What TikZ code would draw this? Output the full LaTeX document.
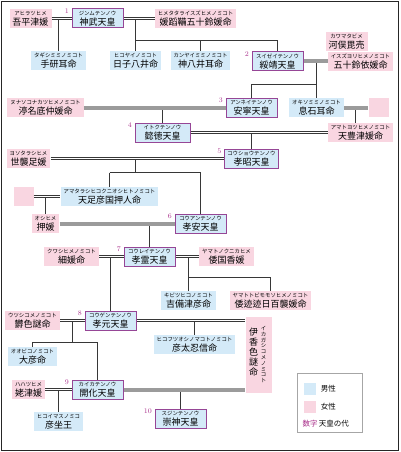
\documentclass[tikz,border=0pt]{standalone}
\usepackage{fontspec}
\usepackage{tikz}
\usetikzlibrary{positioning}
\newfontfamily\jp{Noto Sans CJK JP}
\newcommand{\rubyfont}{\fontsize{5.4}{6}\selectfont\jp}
\newcommand{\namefont}{\fontsize{9}{10}\selectfont\jp}
\newcommand{\legendfont}{\fontsize{7.5}{8}\selectfont\jp}
\newcommand{\person}[2]{{\rubyfont #1}\\{#2}}
\definecolor{malebg}{RGB}{212,234,248}
\definecolor{femalebg}{RGB}{249,214,225}
\definecolor{tennoline}{RGB}{150,70,150}
\definecolor{gennum}{RGB}{170,50,140}
\definecolor{tieline}{RGB}{155,155,155}
\definecolor{kinline}{RGB}{55,55,55}

\begin{document}
\begin{tikzpicture}[x=1pt, y=-1pt,
		male/.style={fill=malebg, inner xsep=3pt, inner ysep=1pt, minimum height=19pt, align=center, font=\namefont},
		female/.style={male, fill=femalebg},
		tenno/.style={male, draw=tennoline, line width=1pt, minimum width=51pt},
		gen/.style={text=gennum, font=\fontsize{7}{7}\selectfont, inner sep=0.5pt, anchor=north east},
		wed/.style={draw=kinline, line width=1pt, double=white, double distance=1pt},
		wedgray/.style={draw=tieline, line width=4pt},
		kin/.style={draw=kinline, line width=1pt}]
		\useasboundingbox (-0.5,-0.5) rectangle (399.5,451.5);
		\draw[black!85, line width=1.5pt] (1,1) rectangle (398,450);
		\node[female] (ahira) at (30,18) {\person{アヒラツヒメ}{吾平津媛}};
		\node[tenno] (jimmu) at (97,18) {\person{ジンムテンノウ}{神武天皇}};
		\node[female] (himetatara) at (195,18) {\person{ヒメタタライスズヒメノミコト}{媛蹈鞴五十鈴媛命}};
		\node[male] (tagishi) at (58,60) {\person{タギシミミノミコト}{手研耳命}};
		\node[male] (hikoyai) at (135,60) {\person{ヒコヤイノミコト}{日子八井命}};
		\node[male] (kamuyai) at (200,60) {\person{カンヤイミミノミコト}{神八井耳命}};
		\node[tenno] (suizei) at (277,61) {\person{スイゼイテンノウ}{綏靖天皇}};
		\node[female] (kawamata) at (346,41) {\person{カワマタビメ}{河俣毘売}};
		\node[female] (isuzuyori) at (360,61) {\person{イスズヨリヒメノミコト}{五十鈴依媛命}};
		\node[female] (nunasoko) at (45,107) {\person{ヌナソコナカツヒメノミコト}{渟名底仲媛命}};
		\node[tenno] (annei) at (251,107) {\person{アンネイテンノウ}{安寧天皇}};
		\node[male] (okiso) at (316,107) {\person{オキソミミノミコト}{息石耳命}};
		\node[female, minimum width=20pt] (blankA) at (378,107) {};
		\node[female] (amatoyo) at (360,132) {\person{アマトヨツヒメノミコト}{天豊津媛命}};
		\node[tenno, minimum width=55pt] (itoku) at (162,132) {\person{イトクテンノウ}{懿徳天皇}};
		\node[tenno] (kosho) at (251,158) {\person{コウショウテンノウ}{孝昭天皇}};
		\node[female] (yoso) at (28,158) {\person{ヨソタラシヒメ}{世襲足媛}};
		\node[female, minimum width=20pt] (blankB) at (23,196) {};
		\node[male] (amatarashi) at (109,196) {\person{アマタラシヒコクニオシヒトノミコト}{天足彦国押人命}};
		\node[female] (oshi) at (45,223) {\person{オシヒメ}{押媛}};
		\node[tenno] (koan) at (200,223) {\person{コウアンテンノウ}{孝安天皇}};
		\node[tenno] (korei) at (149,256) {\person{コウレイテンノウ}{孝霊天皇}};
		\node[female] (kuwashi) at (71,256) {\person{クワシヒメノミコト}{細媛命}};
		\node[female] (kunika) at (226,256) {\person{ヤマトノクニカヒメ}{倭国香媛}};
		\node[male] (kibitsu) at (188,300) {\person{キビツヒコノミコト}{吉備津彦命}};
		\node[female] (momoso) at (270,300) {\person{ヤマトトビモモソヒメノミコト}{倭迹迹日百襲媛命}};
		\node[tenno] (kogen) at (110,320) {\person{コウゲンテンノウ}{孝元天皇}};
		\node[female] (utsushiko) at (32,320) {\person{ウツシコメノミコト}{欝色謎命}};
		\node[male] (ohbiko) at (32,356) {\person{オオビコノミコト}{大彦命}};
		\node[male] (futsuoshi) at (194,344) {\person{ヒコフツオシノマコトノミコト}{彦太忍信命}};
		\node[female, minimum width=26pt, minimum height=76pt] (ikagashiko) at (258,354) {};
		\node[inner sep=0pt, align=center, font=\namefont] (ikaname) at ([xshift=-5pt, yshift=2pt]ikagashiko.center) {伊\\香\\色\\謎\\命};
		\node[inner sep=0pt, align=center, font=\fontsize{5.4}{5.8}\selectfont\jp] (ikaruby) at ([xshift=5pt]ikagashiko.center) {イ\\カ\\ガ\\シ\\コ\\メ\\ノ\\ミ\\コ\\ト};
		\node[tenno] (kaika) at (97,389) {\person{カイカテンノウ}{開化天皇}};
		\node[female] (hahatsu) at (28,389) {\person{ハハツヒメ}{姥津媛}};
		\node[male] (hikoimasu) at (58,421) {\person{ヒコイマスノミコ}{彦坐王}};
		\node[tenno] (sujin) at (180,418) {\person{スジンテンノウ}{崇神天皇}};
		\coordinate (c1) at (58,18);
		\coordinate (c2) at (135,18);
		\coordinate (c3) at (135,40);
		\coordinate (c4) at (316,61);
		\coordinate (c5) at (316,84);
		\coordinate (c6) at (162,107);
		\coordinate (c7) at (355,107);
		\coordinate (c8) at (251,132);
		\coordinate (c9) at (135,158);
		\coordinate (c10) at (135,172);
		\coordinate (c11) at (109,172);
		\coordinate (c12) at (45,196);
		\coordinate (c13) at (149,223);
		\coordinate (c14) at (110,256);
		\coordinate (c15) at (188,256);
		\coordinate (c16) at (188,277);
		\coordinate (c17) at (72,320);
		\coordinate (c18) at (72,342);
		\coordinate (c19) at (194,320);
		\coordinate (c20) at (58,389);
		\coordinate (c21) at (180,389);
		\draw[kin] (c1) -- (tagishi);
		\draw[kin] (c2) -- (hikoyai);
		\draw[kin] (c3) -| (suizei);
		\draw[kin] (c3 -| kamuyai) -- (kamuyai);
		\draw[kin] (c4) -- (okiso);
		\draw[kin] (c5) -| (annei);
		\draw[kin] (c6) -- (itoku);
		\draw[kin] (c7) -- (c7 |- amatoyo.north);
		\draw[kin] (c8) -- (kosho);
		\draw[kin] (c9) -- (c10);
		\draw[kin] (c11) -- (amatarashi);
		\draw[kin] (c11) -| (koan);
		\draw[kin] (c12) -- (oshi);
		\draw[kin] (c13) -- (korei);
		\draw[kin] (c14) -- (kogen);
		\draw[kin] (c15) -- (kibitsu);
		\draw[kin] (c16) -| (momoso);
		\draw[kin] (c17) -- (c18);
		\draw[kin] (c18) -| (ohbiko);
		\draw[kin] (c18) -| (kaika);
		\draw[kin] (c19) -- (futsuoshi);
		\draw[kin] (c20) -- (hikoimasu);
		\draw[kin] (c21) -- (sujin);
		\draw[wed] (ahira) -- (jimmu);
		\draw[wed] (jimmu) -- (himetatara);
		\draw[wed] (itoku) -- (amatoyo);
		\draw[wed] (yoso) -- (kosho);
		\draw[wed] (blankB) -- (amatarashi);
		\draw[wed] (kuwashi) -- (korei);
		\draw[wed] (korei) -- (kunika);
		\draw[wed] (utsushiko) -- (kogen);
		\draw[wed] (kogen) -- (kogen -| ikagashiko.west);
		\draw[wed] (hahatsu) -- (kaika);
		\draw[wedgray] (suizei) -- (isuzuyori);
		\draw[wedgray] (nunasoko) -- (annei);
		\draw[wedgray] (okiso) -- (blankA);
		\draw[wedgray] (oshi) -- (koan);
		\draw[wedgray] (kaika) -- (kaika -| ikagashiko.west);
		\node[gen] (gen1) at ([xshift=-2pt]jimmu.north west) {1};
		\node[gen] (gen2) at ([xshift=-2pt]suizei.north west) {2};
		\node[gen] (gen3) at ([xshift=-2pt]annei.north west) {3};
		\node[gen] (gen4) at ([xshift=-2pt]itoku.north west) {4};
		\node[gen] (gen5) at ([xshift=-2pt]kosho.north west) {5};
		\node[gen] (gen6) at ([xshift=-2pt]koan.north west) {6};
		\node[gen] (gen7) at ([xshift=-2pt]korei.north west) {7};
		\node[gen] (gen8) at ([xshift=-2pt]kogen.north west) {8};
		\node[gen] (gen9) at ([xshift=-2pt]kaika.north west) {9};
		\node[gen] (gen10) at ([xshift=-2pt]sujin.north west) {10};
		\node[draw=gray!70, line width=1pt, fill=white, minimum width=65pt, minimum height=59pt] (legend) at (329.5,402.5) {};
		\node[fill=malebg, minimum size=12pt, inner sep=0pt] (keymale) at (309,388) {};
		\node[right=5pt of keymale, font=\legendfont, inner sep=0pt] (keymaletext) {男性};
		\node[fill=femalebg, minimum size=12pt, inner sep=0pt] (keyfemale) at (309,406) {};
		\node[right=5pt of keyfemale, font=\legendfont, inner sep=0pt] (keyfemaletext) {女性};
		\node[font=\legendfont, anchor=west, inner sep=0pt] (keygen) at (302,423) {\textcolor{gennum}{数字}\,天皇の代};
\end{tikzpicture}
\end{document}
